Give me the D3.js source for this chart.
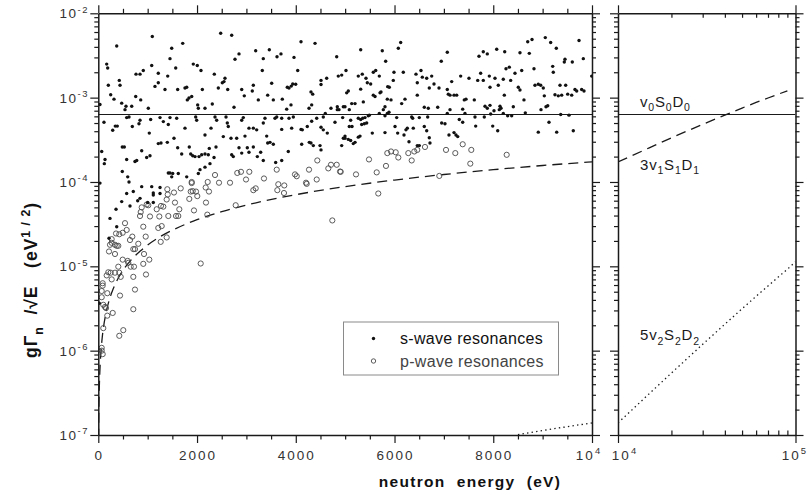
<!DOCTYPE html>
<html><head><meta charset="utf-8">
<script src="https://cdn.jsdelivr.net/npm/d3@7"></script>
<style>
html,body{margin:0;padding:0;background:#fff;}
svg{display:block;font-family:"Liberation Sans",Arial,Helvetica,sans-serif;}
</style></head><body>
<svg id="chart" width="809" height="495"></svg>
<script>
// ---------------- data (energy in eV, reduced width gΓn/√E in eV^1/2) ----------------
const sWave = [
[373,4.1e-3],[1094,5.3e-3],[2479,5.8e-3],[2702,5.5e-3],[1710,4.4e-3],[1487,3.85e-3],[170,2.5e-3],[190,2.25e-3],[1452,2.9e-3],[1082,2.4e-3],
[1924,2.5e-3],[2005,2.4e-3],[1568,2.25e-3],[2080,2.1e-3],[764,1.9e-3],[845,1.9e-3],[911,2.1e-3],[1215,1.95e-3],[1406,1.8e-3],[2350,1.9e-3],
[2769,2.85e-3],[2850,3.3e-3],[3188,3.6e-3],[3464,3.7e-3],[3342,2.9e-3],[3620,3.05e-3],[3700,3.3e-3],[3964,3.0e-3],[4106,4.6e-3],[4390,4.4e-3],
[4039,2.1e-3],[3322,2.1e-3],[4829,3.05e-3],[5017,2.1e-3],[4930,1.85e-3],[4861,1.8e-3],[4511,1.6e-3],[425,1.6e-3],[440,1.4e-3],[203,1.4e-3],
[251,1.08e-3],[318,9.6e-4],[34,8.3e-4],[474,8.6e-4],[561,7.9e-4],[758,1.03e-3],[859,9.4e-4],[1013,7.5e-4],[541,7.2e-4],[677,7.9e-4],
[1148,1.36e-3],[1215,1.5e-3],[1351,1.25e-3],[1608,1.25e-3],[1756,1.3e-3],[1791,1.33e-3],[1837,9.9e-4],[1892,1.03e-3],[1803,9.4e-4],[2107,1.25e-3],
[2013,8.2e-4],[2026,7.5e-4],[2161,7.5e-4],[2309,8.4e-4],[2431,1.3e-3],[2512,1.5e-3],[2546,1.55e-3],[2566,1.7e-3],[2621,1.25e-3],[2749,7.7e-4],
[2905,1.25e-3],[2957,1.05e-3],[3119,1.2e-3],[3140,1.4e-3],[3241,9.4e-4],[3431,1.07e-3],[3512,1.48e-3],[3545,9.4e-4],[3727,9.6e-4],[3828,1.33e-3],
[3863,1.3e-3],[3909,1.37e-3],[3938,1.45e-3],[3998,1.44e-3],[3903,8.2e-4],[3816,7.3e-4],[4268,7.5e-4],[4322,8.2e-4],[4308,1.17e-3],[4343,1.1e-3],
[4511,1.43e-3],[4626,1.7e-3],[4598,6.5e-4],[4713,7.5e-4],[4841,7.8e-4],[4875,7.2e-4],[5031,1.14e-3],[5064,1.2e-3],[4997,7.8e-4],
[115,5.1e-4],[292,4.1e-4],[344,4.6e-4],[385,4.6e-4],[575,5.8e-4],[622,5.9e-4],[689,4.55e-4],[824,4.9e-4],[845,5.4e-4],[1061,5.5e-4],
[1033,3.8e-4],[1250,5.8e-4],[1317,5.2e-4],[1452,5.8e-4],[1418,4.8e-4],[1588,5.7e-4],[1756,4.35e-4],[1973,5.9e-4],[1993,5.4e-4],[2161,3.6e-4],
[2283,4.35e-4],[2364,5.9e-4],[2398,5.4e-4],[2587,5.9e-4],[2613,5.0e-4],[2633,4.55e-4],[2532,3.45e-4],[2688,3.3e-4],[2803,3.3e-4],[2905,5.4e-4],
[2937,5.8e-4],[2971,3.5e-4],[3052,4.35e-4],[3140,4.35e-4],[3208,4.15e-4],[3342,5.0e-4],[3376,5.7e-4],[3411,3.5e-4],[3579,5.7e-4],[3614,5.9e-4],
[3715,4.2e-4],[3715,5.7e-4],[3863,5.7e-4],[3917,4.35e-4],[3950,5.9e-4],[4106,4.2e-4],[4132,4.15e-4],[4233,4.55e-4],[4322,5.25e-4],[4424,5.7e-4],
[4557,5.9e-4],[4511,4.45e-4],[4557,4.15e-4],[4638,3.8e-4],[4794,5.1e-4],[4950,5.8e-4],[5084,4.55e-4],
[69,2.3e-4],[122,1.65e-4],[486,2.6e-4],[527,2.6e-4],[575,1.85e-4],[743,1.75e-4],[778,1.8e-4],[879,2.35e-4],[980,1.95e-4],[1047,2.05e-4],
[1215,2.85e-4],[1270,2.9e-4],[1398,2.95e-4],[1533,3.3e-4],[1608,2.55e-4],[1689,2.15e-4],[1843,2.6e-4],[1872,2.15e-4],[1912,2.05e-4],[1959,2.0e-4],
[2040,2.0e-4],[2094,2.1e-4],[2161,2.15e-4],[2228,2.1e-4],[2248,2.5e-4],[2344,1.95e-4],[2384,2.6e-4],[2702,2.1e-4],[2734,2.0e-4],[2850,2.55e-4],
[2905,2.2e-4],[3018,2.55e-4],[3052,2.25e-4],[3140,2.6e-4],[3221,2.0e-4],[3289,2.25e-4],[3342,1.8e-4],[3431,2.9e-4],[3478,2.95e-4],[3545,2.8e-4],
[3593,1.7e-4],[3715,1.8e-4],[3848,2.3e-4],[4120,2.8e-4],[4274,2.95e-4],[4308,2.9e-4],[4355,2.7e-4],[4491,2.7e-4],[4511,2.4e-4],[4930,2.7e-4],
[4997,3.3e-4],
[486,1.33e-4],[596,1.15e-4],[622,1.0e-4],[575,7.3e-5],[709,7.7e-5],[879,8.8e-5],[798,6.0e-5],[845,6.4e-5],[1082,8.8e-5],[1114,7.4e-5],
[1114,7.0e-5],[1250,7.3e-5],[1250,8.6e-5],[1418,1.28e-4],[1452,1.28e-4],[1487,1.15e-4],[1507,1.26e-4],[1791,1.15e-4],[2026,1.26e-4],[2060,1.4e-4],
[2161,1.5e-4],[2262,1.65e-4],[1620,1.26e-4],[474,5.85e-5],[359,4.75e-5],[237,3.7e-5],[1001,5.7e-5],[1114,5.7e-5],
[642,5.2e-5],[373,2.95e-5],[217,2.15e-5],[20,3.65e-6],[34,9.7e-5],[136,1.85e-4],
[5315,3.7e-3],[5752,3.6e-3],[5821,2.7e-3],[6077,3.85e-3],[6125,4.5e-3],[7069,3.45e-3],[6947,2.7e-3],[7711,3.1e-3],[7798,3.5e-3],[7879,3.3e-3],
[8070,3.75e-3],[8232,3.5e-3],[8541,3.4e-3],[8730,3.35e-3],[8698,4.6e-3],[8785,4.9e-3],[9054,5.15e-3],[9163,4.5e-3],[9277,3.85e-3],[9453,2.85e-3],
[9601,2.65e-3],[9737,4.75e-3],[9824,2.9e-3],[9994,1.8e-3],[5266,1.8e-3],[5347,1.9e-3],[5422,1.7e-3],[5315,1.26e-3],[5570,2.0e-3],[5619,2.1e-3],
[5692,1.8e-3],[5726,1.17e-3],[5706,1.14e-3],[5570,1.07e-3],[5605,1.03e-3],[5449,1.5e-3],[5517,1.45e-3],[5862,1.35e-3],[5894,1.33e-3],[5975,1.6e-3],
[5989,2.0e-3],[6178,2.0e-3],[5854,9.6e-4],[5929,9.4e-4],[5807,7.8e-4],[5773,7.2e-4],[5888,6.7e-4],[6145,8.5e-4],[6212,9.6e-4],[6435,1.9e-3],
[6536,2.1e-3],[6563,1.75e-3],[6461,1.5e-3],[6461,1.07e-3],[6652,1.7e-3],[6753,1.8e-3],[6704,1.3e-3],[6800,1.45e-3],[6901,1.3e-3],[6603,7.7e-4],
[6684,7.5e-4],[6875,7.7e-4],[7069,1.25e-3],[7089,1.1e-3],[7124,1.07e-3],[7158,1.55e-3],[7205,1.07e-3],[7259,1.07e-3],[7340,1.8e-3],[7413,9.4e-4],
[7448,9.6e-4],[7381,7.3e-4],[7508,1.7e-3],[7616,9.4e-4],[7685,1.6e-3],[7798,1.6e-3],[7745,1.95e-3],[7920,1.8e-3],[7934,1.33e-3],[8035,1.7e-3],
[8102,1.4e-3],[8203,1.65e-3],[8224,1.07e-3],[8258,2.2e-3],[8325,2.3e-3],[8353,1.6e-3],[8440,1.95e-3],[8507,1.33e-3],[8541,1.23e-3],[8576,2.1e-3],
[8622,9.4e-4],[8825,2.2e-3],[8845,1.4e-3],[8912,1.44e-3],[8961,1.4e-3],[9013,1.3e-3],[9034,1.05e-3],[9068,7.8e-4],[9103,8.0e-4],[9204,2.35e-3],
[9216,2.0e-3],[9352,1.4e-3],[9467,1.4e-3],[9250,1.08e-3],[9317,1.05e-3],[9386,1.07e-3],[9439,2.65e-3],[9508,1.1e-3],[9589,1.07e-3],[9655,1.25e-3],
[9690,1.2e-3],[9791,1.25e-3],[9838,1.2e-3],
[4841,7.2e-4],[4963,7.8e-4],[5133,8.5e-4],[5200,8.5e-4],[5084,7.2e-4],[5368,8.9e-4],[5112,5.4e-4],[5266,5.7e-4],[5315,5.5e-4],[5355,5.7e-4],
[5402,5.8e-4],[5469,6.1e-4],[5489,6.2e-4],[5139,4.55e-4],[5335,4.8e-4],[5388,4.9e-4],[5436,5.0e-4],[5692,6.5e-4],[5807,6.1e-4],[5854,6.5e-4],
[6044,5.8e-4],[6348,5.9e-4],[6368,5.7e-4],[6502,5.8e-4],[6672,5.9e-4],[6603,4.55e-4],[6652,4.05e-4],[6380,4.35e-4],[6259,4.35e-4],[6232,4.15e-4],
[5807,3.85e-4],[6064,3.8e-4],[6192,3.6e-4],[6293,3.0e-4],[6704,3.35e-4],[6718,2.9e-4],[6461,2.7e-4],[6502,2.7e-4],[4997,3.5e-4],[4963,3.3e-4],
[5064,3.2e-4],[5112,3.1e-4],[5165,2.85e-4],[5200,2.95e-4],[5266,3.4e-4],[5301,3.5e-4],[5550,3.8e-4],[6010,4.55e-4],[7022,4.9e-4],[6955,5.0e-4],
[7103,3.6e-4],[7205,3.85e-4],[7245,3.6e-4],[7280,3.45e-4],[7069,6.5e-4],[7124,7.2e-4],[7312,5.5e-4],[7381,5.1e-4],[7427,6.5e-4],[7630,5.9e-4],
[7644,4.6e-4],[7818,5.9e-4],[7989,4.6e-4],[7948,6.4e-4],[8090,4.05e-4],[8136,7.9e-4],[8015,7.0e-4],[8203,6.5e-4],[8292,6.1e-4],[8406,7.8e-4],
[8649,6.6e-4],[8912,3.9e-4],[8967,7.2e-4],[9129,5.1e-4],[9285,3.9e-4],[9366,6.3e-4],[9534,6.2e-4],[9621,4.05e-4],[8373,6.1e-4],[8122,7.2e-4],
[7833,7.9e-4],[7879,7.5e-4],[8157,7.5e-4],[7934,8.1e-4]
];
const pWave = [
[2364,1.21e-4],[1892,1.0e-4],[1892,9.7e-5],[2216,1.0e-4],[2445,9.8e-5],[2668,9.8e-5],[2815,1.28e-4],[2890,1.32e-4],[3059,1.32e-4],[2992,1.07e-4],
[3356,1.1e-4],[3614,1.4e-4],[3646,9.4e-5],[3767,9.1e-5],[3626,8.0e-5],[3761,7.4e-5],[3984,1.23e-4],[4019,1.17e-4],[4207,9.8e-5],[4221,9.5e-5],
[4424,1.07e-4],[4268,1.4e-4],[4436,1.8e-4],[4659,1.45e-4],[4713,1.6e-4],[4829,1.6e-4],[4896,1.33e-4],[1398,8.2e-5],[1406,7.1e-5],[1533,7.5e-5],
[1669,8.4e-5],[1872,7.7e-5],[1912,7.8e-5],[1979,7.7e-5],[2005,6.8e-5],[1843,6.3e-5],[2175,8.6e-5],[2242,7.7e-5],[2181,5.7e-5],[2208,4.1e-5],
[2783,5.3e-5],[3188,8.4e-5],[3140,8.0e-5],[1553,5.7e-5],[1385,6.2e-5],[1641,4.75e-5],[1270,5.2e-5],[1317,5.1e-5],[1183,4.75e-5],[1013,5.3e-5],
[980,5.4e-5],[879,5.0e-5],[859,4.4e-5],[845,3.95e-5],[1047,3.9e-5],[1236,3.9e-5],[1418,3.95e-5],[1574,3.95e-5],[1620,3.95e-5],[1938,4.6e-5],
[4740,3.5e-5],
[4910,1.32e-4],[5220,1.23e-4],[5483,1.85e-4],[5639,1.3e-4],[5827,1.55e-4],[5854,2.2e-4],[5929,2.3e-4],[6024,2.25e-4],[6077,1.95e-4],[6279,2.2e-4],
[6348,1.8e-4],[6401,2.3e-4],[6461,2.4e-4],[6617,2.6e-4],[5671,7.3e-5],[6907,1.18e-4],[7043,2.4e-4],[7231,2.2e-4],[7381,2.8e-4],[7555,2.4e-4],
[7535,1.65e-4],[8272,2.1e-4],
[541,3.25e-5],[494,2.5e-5],[575,2.7e-5],[359,2.45e-5],[425,2.4e-5],[911,2.95e-5],[1215,2.85e-5],[1284,3.0e-5],[960,2.25e-5],[1385,2.2e-5],
[1264,1.95e-5],[810,1.85e-5],[642,2.05e-5],[689,2.25e-5],[271,2.1e-5],[237,1.8e-5],[271,1.9e-5],[338,1.8e-5],[373,1.75e-5],[405,1.75e-5],
[217,1.5e-5],[338,1.4e-5],[709,1.6e-5],[743,1.6e-5],[926,1.4e-5],[1033,1.2e-5],[911,1.07e-5],[494,1.2e-5],[596,1.16e-5],[608,1.1e-5],
[405,9.9e-6],[656,9.9e-6],[723,9.9e-6],[2074,1.08e-5],[203,8.5e-6],[251,8.4e-6],[338,8.4e-6],[425,8.4e-6],[170,7.8e-6],[271,7.0e-6],
[454,7.5e-6],[709,7.5e-6],[966,8.0e-6],[89,6.3e-6],[89,5.9e-6],[69,5.1e-6],[182,4.8e-6],[743,5.3e-6],[69,4.3e-6],[440,4.5e-6],
[101,3.5e-6],[136,3.3e-6],[156,3.2e-6],[292,2.8e-6],[182,2.6e-6],[709,3.1e-6],[101,1.85e-6],[506,1.75e-6],[425,1.5e-6],[69,1.08e-6],
[69,1.0e-6],[89,9.1e-7]
];
// s-wave reference level v0S0D0
const sLevel = 6.3e-4;
// p-wave reference curve 3v1S1D1 (dashed)
const pCurveE = [5,10,20,30,50,75,100,150,200,300,400,550,700,850,1000,1250,1500,2000,2500,3000,4000,5000,6000,7000,8000,9000,10000,15000,20000,30000,40000,50000,60000,70000,80000,90000];
const pCurveG = [9.0e-8,1.8e-7,3.59e-7,5.39e-7,8.98e-7,1.35e-6,1.80e-6,2.69e-6,3.59e-6,5.38e-6,7.17e-6,9.86e-6,1.25e-5,1.52e-5,1.79e-5,2.24e-5,2.68e-5,3.57e-5,4.45e-5,5.32e-5,7.07e-5,8.81e-5,1.054e-4,1.226e-4,1.398e-4,1.568e-4,1.73e-4,2.54e-4,3.34e-4,4.83e-4,6.2e-4,7.53e-4,8.78e-4,9.9e-4,1.1e-3,1.2e-3];
// d-wave reference curve 5v2S2D2 (dotted)
const dCurveE = [8500,9000,10000,15000,20000,30000,40000,50000,60000,70000,80000,90000,100000];
const dCurveG = [1.01e-7,1.13e-7,1.39e-7,3.09e-7,5.43e-7,1.19e-6,2.06e-6,3.14e-6,4.41e-6,5.85e-6,7.48e-6,9.24e-6,1.13e-5];
// ticks
const yDecades = [1e-7,1e-6,1e-5,1e-4,1e-3,1e-2];
const yExponents = ["-7","-6","-5","-4","-3","-2"];
const xLinMajor = [0,2000,4000,6000,8000];
const xLinMajorLabels = ["0","2000","4000","6000","8000"];
const xLinMinorStep = 500;
const legendLabels = ["s-wave resonances","p-wave resonances"];

// ---------------- layout ----------------
const svg = d3.select("#chart");
const yTop = 13.3, yBot = 435;
const L = {x0: 98.3, x1: 592};
const R = {x0: 618, x1: 795.5};
const y = d3.scaleLog().domain([1e-7,1e-2]).range([yBot, yTop]);
const xL = d3.scaleLinear().domain([0,10000]).range([L.x0, L.x1]);
const xR = d3.scaleLog().domain([1e4,1e5]).range([R.x0, R.x1]);
const INK = "#1a1a1a";
const TICKFS = 13.5;

const yMinor = [];
yDecades.slice(0,-1).forEach(d => { for (let k=2;k<=9;k++) yMinor.push(k*d); });
const xLinMinor = d3.range(0, 10001, xLinMinorStep).filter(v => v % 2000 !== 0);
const xLogMinor = d3.range(2,10).map(k => k*1e4);

function drawAxis(gen, tx, ty, values, size, withDomain) {
  const g = svg.append("g").attr("transform", `translate(${tx},${ty})`)
    .call(gen.tickValues(values).tickSize(size).tickSizeOuter(0).tickFormat(""));
  g.selectAll(".tick line").attr("stroke", INK).attr("stroke-width", 1.2);
  if (withDomain) g.select(".domain").attr("stroke", INK).attr("stroke-width", 1.5);
  else g.select(".domain").remove();
  return g;
}

const defs = svg.append("defs");
defs.append("clipPath").attr("id","clipL").append("rect").attr("x",L.x0).attr("y",yTop).attr("width",L.x1-L.x0).attr("height",yBot-yTop);
defs.append("clipPath").attr("id","clipR").append("rect").attr("x",R.x0).attr("y",yTop).attr("width",R.x1-R.x0).attr("height",yBot-yTop);

// ---------------- left panel marks ----------------
const gL = svg.append("g").attr("clip-path","url(#clipL)");
gL.append("line").attr("x1",L.x0).attr("x2",L.x1).attr("y1",y(sLevel)).attr("y2",y(sLevel))
  .attr("stroke",INK).attr("stroke-width",1.1);
const lineL = d3.line().x(d => xL(d[0])).y(d => y(d[1])).curve(d3.curveMonotoneX);
gL.append("path").datum(pCurveE.map((e,i)=>[e,pCurveG[i]]).filter(d=>d[0]<=10000))
  .attr("d", lineL).attr("fill","none").attr("stroke",INK).attr("stroke-width",1.3).attr("stroke-dasharray","10,6");
gL.append("path").datum(dCurveE.map((e,i)=>[e,dCurveG[i]]).filter(d=>d[0]<=10000))
  .attr("d", lineL).attr("fill","none").attr("stroke",INK).attr("stroke-width",1.3).attr("stroke-dasharray","1.4,3.2");
gL.selectAll("circle.p").data(pWave).join("circle").attr("class","p")
  .attr("cx", d => xL(d[0])).attr("cy", d => y(d[1])).attr("r", 2.6)
  .attr("fill","none").attr("stroke","#4a4a4a").attr("stroke-width",0.9);
gL.selectAll("circle.s").data(sWave).join("circle").attr("class","s")
  .attr("cx", d => xL(d[0])).attr("cy", d => y(d[1])).attr("r", 1.7).attr("fill","#111");

// ---------------- right panel marks ----------------
const gR = svg.append("g").attr("clip-path","url(#clipR)");
gR.append("line").attr("x1",R.x0).attr("x2",R.x1).attr("y1",y(sLevel)).attr("y2",y(sLevel))
  .attr("stroke",INK).attr("stroke-width",1.1);
const lineR = d3.line().x(d => xR(d[0])).y(d => y(d[1]));
gR.append("path").datum(pCurveE.map((e,i)=>[e,pCurveG[i]]).filter(d=>d[0]>=10000))
  .attr("d", lineR).attr("fill","none").attr("stroke",INK).attr("stroke-width",1.3).attr("stroke-dasharray","10,6");
gR.append("path").datum(dCurveE.map((e,i)=>[e,dCurveG[i]]).filter(d=>d[0]>=10000))
  .attr("d", lineR).attr("fill","none").attr("stroke",INK).attr("stroke-width",1.3).attr("stroke-dasharray","1.4,3.2");

// ---------------- axes ----------------
drawAxis(d3.axisLeft(y), L.x0, 0, yDecades, 8, true);
drawAxis(d3.axisLeft(y), L.x0, 0, yMinor, 4, false);
drawAxis(d3.axisRight(y), L.x1, 0, yDecades, 8, true);
drawAxis(d3.axisRight(y), L.x1, 0, yMinor, 4, false);
drawAxis(d3.axisTop(xL), 0, yTop, xLinMajor.concat([10000]), 8, true);
drawAxis(d3.axisTop(xL), 0, yTop, xLinMinor, 4.5, false);
drawAxis(d3.axisBottom(xL), 0, yBot, xLinMajor.concat([10000]), 8, true);
drawAxis(d3.axisBottom(xL), 0, yBot, xLinMinor, 4.5, false);
drawAxis(d3.axisLeft(y), R.x0, 0, yDecades, 8, true);
drawAxis(d3.axisLeft(y), R.x0, 0, yMinor, 4, false);
drawAxis(d3.axisRight(y), R.x1, 0, yDecades, 8, true);
drawAxis(d3.axisRight(y), R.x1, 0, yMinor, 4, false);
drawAxis(d3.axisTop(xR), 0, yTop, [1e4,1e5], 8, true);
drawAxis(d3.axisBottom(xR), 0, yTop, xLogMinor, 4.5, false);
drawAxis(d3.axisBottom(xR), 0, yBot, [1e4,1e5], 8, true);
drawAxis(d3.axisTop(xR), 0, yBot, xLogMinor, 4.5, false);

// ---------------- text ----------------
function rich(textSel, parts, base) {
  let cur = 0;
  parts.forEach(([t, kind]) => {
    const off = kind === "sup" ? -base*0.42 : kind === "sub" ? base*0.32 : 0;
    textSel.append("tspan").attr("dy", off - cur).attr("font-size", kind ? base*0.7 : base).text(t);
    cur = off;
  });
  return textSel;
}

yDecades.forEach((d,i) => {
  const t = svg.append("text").attr("x", 89).attr("y", y(d) + 5)
    .attr("text-anchor","end").attr("fill","#333").attr("letter-spacing","1.5px").attr("font-size",TICKFS);
  rich(t, [["10"],[yExponents[i],"sup"]], TICKFS);
});
xLinMajor.forEach((v,i) => {
  svg.append("text").attr("x", xL(v) + 1).attr("y", 460).attr("text-anchor","middle")
    .attr("fill","#333").attr("font-size",TICKFS).attr("letter-spacing","2px").text(xLinMajorLabels[i]);
});
function powLabel(x, exp, anchor) {
  const t = svg.append("text").attr("x", x).attr("y", 460).attr("text-anchor",anchor)
    .attr("fill","#333").attr("font-size",TICKFS).attr("letter-spacing","2px");
  rich(t, [["10"],[exp,"sup"]], TICKFS);
}
powLabel(xL(10000) - 3, "4", "middle");
powLabel(xR(1e4) + 7, "4", "middle");
powLabel(808, "5", "end");

svg.append("text").attr("x", 470).attr("y", 487).attr("text-anchor","middle")
  .attr("font-weight","bold").attr("font-size",15.5).attr("letter-spacing","1.3px")
  .attr("fill","#111").style("white-space","pre").text("neutron  energy  (eV)");
const yt = svg.append("text").attr("transform","translate(37,280) rotate(-90)")
  .attr("text-anchor","middle").attr("font-weight","bold").attr("fill","#111")
  .attr("font-size",17.5).attr("letter-spacing","1px").style("white-space","pre");
rich(yt, [["gΓ"],["n","sub"],["  /√E   (eV"],["1 / 2","sup"],[")"]], 17.5);

function curveLabel(x, yy, parts) {
  const t = svg.append("text").attr("x", x).attr("y", yy).attr("fill","#1a1a1a")
    .attr("font-size",15).attr("letter-spacing","0.8px");
  rich(t, parts, 15);
}
curveLabel(640, y(sLevel) - 8, [["v"],["0","sub"],["S"],["0","sub"],["D"],["0","sub"]]);
curveLabel(640, y(sLevel) + 55, [["3v"],["1","sub"],["S"],["1","sub"],["D"],["1","sub"]]);
curveLabel(640, y(dCurveG[5]) - 4, [["5v"],["2","sub"],["S"],["2","sub"],["D"],["2","sub"]]);

const lg = svg.append("g");
lg.append("rect").attr("x",343.5).attr("y",322).attr("width",215).attr("height",53)
  .attr("fill","#fff").attr("stroke","#8a8a8a").attr("stroke-width",1);
lg.append("circle").attr("cx",373.5).attr("cy",338.5).attr("r",1.7).attr("fill","#111");
lg.append("circle").attr("cx",373.5).attr("cy",361).attr("r",2.2).attr("fill","none").attr("stroke","#4a4a4a").attr("stroke-width",0.9);
lg.append("text").attr("x",400).attr("y",344).attr("font-size",16).attr("letter-spacing","0.3px").attr("fill","#111").text(legendLabels[0]);
lg.append("text").attr("x",400).attr("y",366.5).attr("font-size",16).attr("letter-spacing","0.3px").attr("fill","#444").text(legendLabels[1]);
</script>
</body></html>
